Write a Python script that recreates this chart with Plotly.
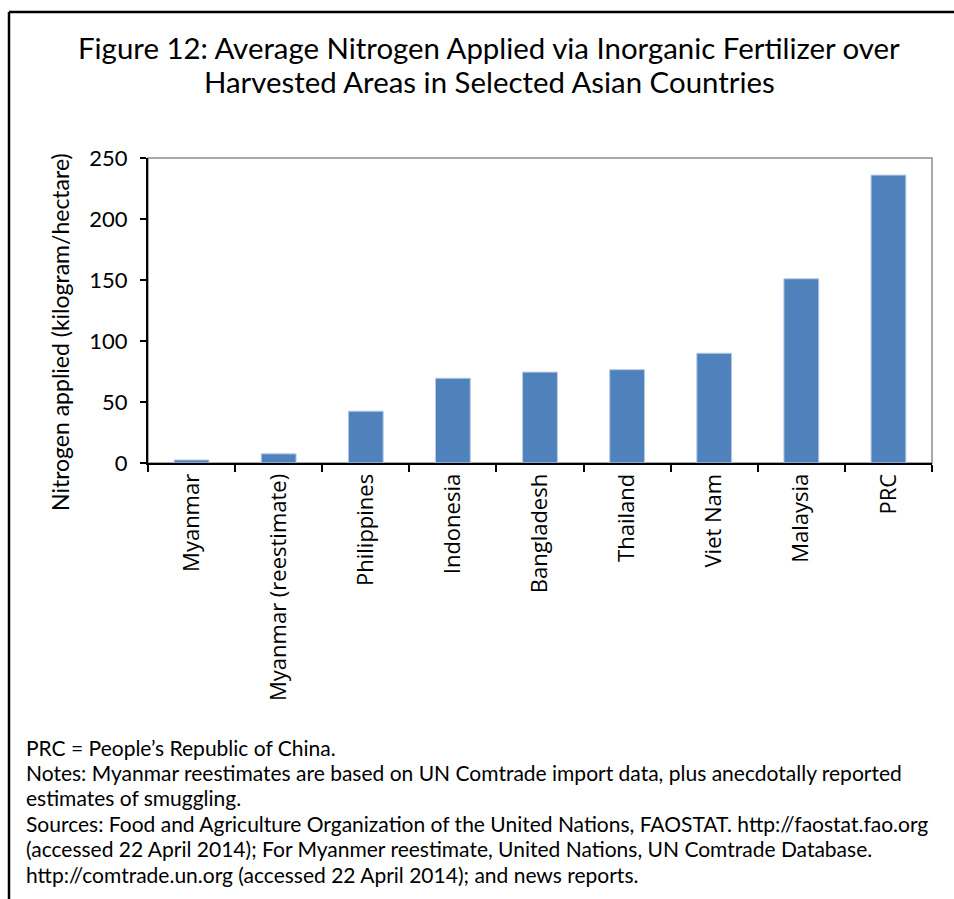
import plotly.graph_objects as go

countries = ["Myanmar", "Myanmar (reestimate)", "Philippines", "Indonesia", "Bangladesh",
             "Thailand", "Viet Nam", "Malaysia", "PRC"]
nitrogen = [2.5, 7.5, 42.5, 69.5, 74.5, 76.5, 90, 151, 236]
y_ticks = [0, 50, 100, 150, 200, 250]

title_lines = ["Figure 12: Average Nitrogen Applied via Inorganic Fertilizer over",
               "Harvested Areas in Selected Asian Countries"]
y_title = "Nitrogen applied (kilogram/hectare)"
notes = [
    "PRC = People\u2019s Republic of China.",
    "Notes: Myanmar reestimates are based on UN Comtrade import data, plus anecdotally reported",
    "estimates of smuggling.",
    "Sources: Food and Agriculture Organization of the United Nations, FAOSTAT. http://faostat.fao.org",
    "(accessed 22 April 2014); For Myanmer reestimate, United Nations, UN Comtrade Database.",
    "http://comtrade.un.org (accessed 22 April 2014); and news reports.",
]

W, H = 954, 899
L, R, T, B = 148, 22, 158, 436
PW, PH = W - L - R, H - T - B


def px(x):
    return (x - L) / PW


def py(y):
    return (H - B - y) / PH


fig = go.Figure(go.Bar(
    x=countries, y=nitrogen,
    marker=dict(color="#4F81BD", line=dict(color="#B9CDE5", width=1)),
))

fig.update_layout(
    width=W, height=H,
    margin=dict(l=L, r=R, t=T, b=B),
    plot_bgcolor="white", paper_bgcolor="white",
    bargap=0.6, showlegend=False,
    font=dict(family="Lato", color="black"),
)

fig.update_xaxes(
    type="category", tickson="boundaries", ticks="outside", ticklen=7, tickwidth=1.5,
    tickcolor="black", showline=True, linecolor="black", linewidth=2,
    tickangle=-90, tickfont=dict(family="Open Sans", size=22, color="black"),
    showgrid=False,
)
fig.update_yaxes(
    range=[0, 250], tickvals=y_ticks, ticks="outside", ticklen=6, tickwidth=1.5,
    tickcolor="black", showline=True, linecolor="black", linewidth=2, ticklabelstandoff=8,
    tickfont=dict(family="Lato", size=22, color="black"), showgrid=False, zeroline=False,
)

# thin grey frame around the plot area (top/right)
fig.add_shape(type="rect", xref="paper", yref="paper", x0=0, x1=1, y0=0, y1=1,
              line=dict(color="#8C8C8C", width=1.5), layer="below")

# outer border of the figure box (runs off the right and bottom edges)
fig.add_shape(type="line", xref="paper", yref="paper", x0=px(9), x1=px(960), y0=py(12), y1=py(12),
              line=dict(color="black", width=2.5))
fig.add_shape(type="line", xref="paper", yref="paper", x0=px(9), x1=px(9), y0=py(12), y1=py(905),
              line=dict(color="black", width=2.5))

for i, line in enumerate(title_lines):
    fig.add_annotation(text=line, xref="paper", yref="paper", x=px(489), y=py(47 + 34 * i),
                       showarrow=False, font=dict(family="Lato", size=29.4, color="black"),
                       xanchor="center", yanchor="middle")

fig.add_annotation(text=y_title, xref="paper", yref="paper", x=px(60), y=py(332),
                   textangle=-90, showarrow=False, font=dict(family="Lato", size=23, color="black"),
                   xanchor="center", yanchor="middle")

for i, line in enumerate(notes):
    fig.add_annotation(text=line, xref="paper", yref="paper", x=px(24), y=py(747 + 25.4 * i),
                       showarrow=False, xanchor="left", yanchor="middle",
                       font=dict(family="Lato", size=21, color="black"))

fig.write_html("out.html", config={"displayModeBar": False},
               post_script="document.body.style.margin='0';")
